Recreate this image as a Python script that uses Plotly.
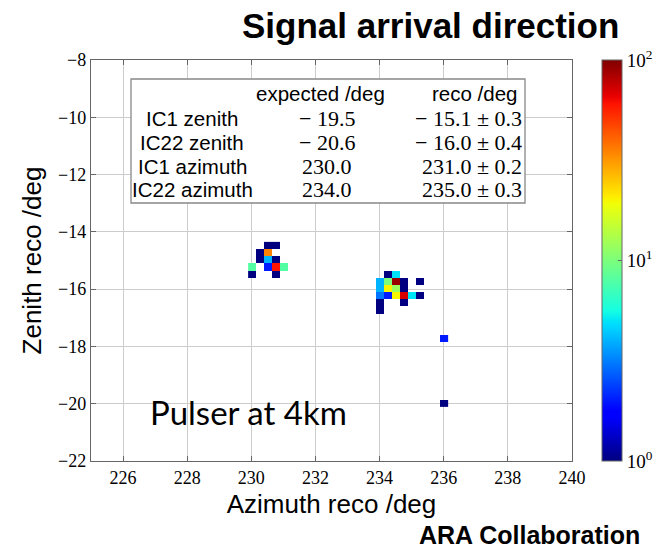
import numpy as np
import plotly.graph_objects as go

# ---------------- data ----------------
bin_size = 0.25
bin_azimuth = [230.525, 230.775,
               230.275, 230.525,
               230.275, 230.525, 230.775,
               230.025, 230.525, 230.775, 231.025,
               230.025, 230.775,
               234.275, 234.525,
               234.025, 234.275, 234.525, 234.775, 235.275,
               234.025, 234.275, 234.525, 234.775,
               234.025, 234.275, 234.525, 234.775, 235.025, 235.275,
               234.025, 234.775,
               234.025,
               236.025, 236.025]
bin_zenith = [-14.475, -14.475,
              -14.725, -14.725,
              -14.975, -14.975, -14.975,
              -15.225, -15.225, -15.225, -15.225,
              -15.475, -15.475,
              -15.475, -15.475,
              -15.725, -15.725, -15.725, -15.725, -15.725,
              -15.975, -15.975, -15.975, -15.975,
              -16.225, -16.225, -16.225, -16.225, -16.225, -16.225,
              -16.475, -16.475,
              -16.725,
              -17.725, -19.975]
bin_counts = [1, 1,
              1, 35,
              1, 4, 1,
              8, 2, 60, 8,
              1, 1,
              1, 5,
              4, 10, 90, 1, 1,
              4, 20, 12, 1,
              3, 2, 20, 70, 5, 1,
              1, 1,
              1,
              2, 1]

table_rows = ["IC1 zenith", "IC22 zenith", "IC1 azimuth", "IC22 azimuth"]
table_expected = ["\u2212 19.5", "\u2212 20.6", "230.0", "234.0"]
table_reco = ["\u2212 15.1 \u00b1 0.3", "\u2212 16.0 \u00b1 0.4", "231.0 \u00b1 0.2", "235.0 \u00b1 0.3"]

x_ticks = list(range(226, 241, 2))
y_ticks = list(range(-22, -7, 2))
cbar_ticks = [0, 1, 2]
cbar_text = ["10<sup>0</sup>", "10<sup>1</sup>", "10<sup>2</sup>"]

# ---------------- build the 2D histogram grid ----------------
x0 = min(bin_azimuth)
y0 = min(bin_zenith)
nx = int(round((max(bin_azimuth) - x0) / bin_size)) + 1
ny = int(round((max(bin_zenith) - y0) / bin_size)) + 1
z = [[None] * nx for _ in range(ny)]
for ax_, ze_, c in zip(bin_azimuth, bin_zenith, bin_counts):
    i = int(round((ze_ - y0) / bin_size))
    j = int(round((ax_ - x0) / bin_size))
    z[i][j] = float(np.log10(c))

# matplotlib "jet" colour map
def jet_scale():
    stops = sorted(set([0, 0.11, 0.125, 0.34, 0.35, 0.375, 0.64, 0.65, 0.66, 0.89, 0.91, 1]))
    r = np.interp(stops, [0, 0.35, 0.66, 0.89, 1], [0, 0, 1, 1, 0.5])
    g = np.interp(stops, [0, 0.125, 0.375, 0.64, 0.91, 1], [0, 0, 1, 1, 0, 0])
    b = np.interp(stops, [0, 0.11, 0.34, 0.65, 1], [0.5, 1, 1, 0, 0])
    return [[s, "rgb(%d,%d,%d)" % (round(rr * 255), round(gg * 255), round(bb * 255))]
            for s, rr, gg, bb in zip(stops, r, g, b)]

fig = go.Figure()
fig.add_trace(go.Heatmap(
    z=z, x0=x0, dx=bin_size, y0=y0, dy=bin_size,
    zmin=0, zmax=2, colorscale=jet_scale(), hoverongaps=False,
    colorbar=dict(
        x=1.0624, xanchor="left", xpad=0, y=0.5, yanchor="middle", ypad=0,
        len=1, lenmode="fraction", thickness=20, thicknessmode="pixels",
        outlinecolor="#666666", outlinewidth=1,
        tickvals=cbar_ticks, ticktext=cbar_text, ticks="inside", ticklen=4,
        tickcolor="#666666",
        tickfont=dict(family="Liberation Serif", size=19, color="black"),
    ),
))

# ---------------- layout ----------------
L, R, T, B = 91, 83, 60, 89
W, H = 655, 550
pw, ph = W - L - R, H - T - B

def px2paper(px, py):
    return (px - L) / pw, (H - B - py) / ph

axis_common = dict(
    showgrid=True, gridcolor="#cccccc", gridwidth=1,
    showline=True, linecolor="#666666", linewidth=1.3, mirror="ticks",
    ticks="inside", ticklen=5, tickcolor="#666666",
    tickfont=dict(family="Liberation Serif", size=18, color="black"),
    zeroline=False,
    title_font=dict(family="Liberation Sans", size=26, color="black"),
)
fig.update_layout(
    width=W, height=H, margin=dict(l=L, r=R, t=T, b=B, autoexpand=False),
    paper_bgcolor="white", plot_bgcolor="white", showlegend=False,
    xaxis=dict(range=[225, 240], tickvals=x_ticks, title_text="Azimuth reco /deg",
               title_standoff=8, **axis_common),
    yaxis=dict(range=[-22, -8], tickvals=y_ticks, title_text="Zenith reco /deg",
               title_standoff=8, **axis_common),
)

# table box
bx0, by0 = px2paper(131, 203)
bx1, by1 = px2paper(525, 79)
fig.add_shape(type="rect", xref="paper", yref="paper", x0=bx0, y0=by0, x1=bx1, y1=by1,
              fillcolor="white", line=dict(color="#888888", width=1.3), layer="above")

sans = dict(family="Liberation Sans", size=20.5, color="black")
serif = dict(family="Liberation Serif", size=22, color="black")
ann = []
hx, hy = px2paper(320, 93)
ann.append(dict(x=hx, y=hy, text="expected /deg", xanchor="center", font=sans))
hx, hy = px2paper(519, 93)
ann.append(dict(x=hx, y=hy, text="reco /deg", xanchor="right", font=sans))
row_y = [118, 142, 166, 189.5]
for lab, ex, rc, ry in zip(table_rows, table_expected, table_reco, row_y):
    ax_, ay_ = px2paper(192, ry)
    ann.append(dict(x=ax_, y=ay_, text=lab, xanchor="center", font=sans))
    ax_, ay_ = px2paper(327, ry)
    ann.append(dict(x=ax_, y=ay_, text=ex, xanchor="center", font=serif))
    ax_, ay_ = px2paper(524, ry)
    ann.append(dict(x=ax_, y=ay_, text=rc, xanchor="right", font=serif))

px_, py_ = px2paper(148, 412)
ann.append(dict(x=px_, y=py_, text="Pulser at 4km", xanchor="left",
                font=dict(family="Lato", size=33, color="black")))
px_, py_ = px2paper(240, 25)
ann.append(dict(x=px_, y=py_, text="<b>Signal arrival direction</b>", xanchor="left",
                font=dict(family="Liberation Sans", size=35, color="black")))
px_, py_ = px2paper(417, 535)
ann.append(dict(x=px_, y=py_, text="<b>ARA Collaboration</b>", xanchor="left",
                font=dict(family="Liberation Sans", size=25, color="black")))

for a in ann:
    a.update(xref="paper", yref="paper", yanchor="middle", showarrow=False)
fig.update_layout(annotations=ann)

fig.write_html("out.html")
